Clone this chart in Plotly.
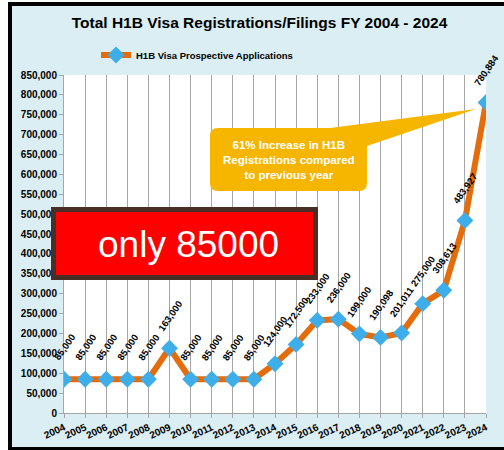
import plotly.graph_objects as go

years = [str(y) for y in range(2004, 2025)]
applications = [85000, 85000, 85000, 85000, 85000, 163000, 85000, 85000, 85000, 85000,
                124000, 172500, 233000, 236000, 199000, 190098, 201011, 275000, 308613,
                483927, 780884]
series_name = "H1B Visa Prospective Applications"
title_text = "Total H1B Visa Registrations/Filings FY 2004 - 2024"
callout_text = "61% Increase in H1B<br>Registrations compared<br>to previous year"
box_text = "only 85000"

W, H = 504, 450
L, R, T, B = 64, 18, 75, 37
PW, PH = W - L - R, H - T - B

def px(x):
    return (x - L) / PW

def py(y):
    return (H - B - y) / PH

ORANGE = "#E46C0A"
BLUE = "#3DAEE9"
BG = "#DAEEF3"
GOLD = "#F6B600"

fig = go.Figure()
fig.add_trace(go.Scatter(
    x=years, y=applications, name=series_name, mode="lines+markers",
    line=dict(color=ORANGE, width=6),
    marker=dict(symbol="diamond", size=13, color=BLUE, line=dict(width=0)),
    showlegend=True,
))

font_fam = "Liberation Sans, Arial, sans-serif"

annotations = []
for i, v in enumerate(applications):
    annotations.append(dict(
        x=i, y=v, xref="x", yref="y", text=f"{v:,}", showarrow=False,
        textangle=-55, xanchor="center", yanchor="middle", yshift=32,
        font=dict(family=font_fam, size=9.5, color="black", weight="bold"),
    ))

annotations.append(dict(
    x=px(288.5), y=py(160), xref="paper", yref="paper", text=callout_text,
    showarrow=False, xanchor="center", yanchor="middle", align="center",
    font=dict(family=font_fam, size=11.5, color="white", weight="bold"),
))
annotations.append(dict(
    x=px(188), y=py(244), xref="paper", yref="paper", text=box_text,
    showarrow=False, xanchor="center", yanchor="middle",
    font=dict(family=font_fam, size=37, color="white"),
))

x0, x1, y0, y1, r = 210, 367, 128, 191, 8
def P(x, y):
    return f"{px(x):.5f},{py(y):.5f}"
path = (
    f"M {P(x0 + r, y0)} L {P(330, y0)} L {P(476, 109)} L {P(x1, 146)} "
    f"L {P(x1, y1 - r)} Q {P(x1, y1)} {P(x1 - r, y1)} "
    f"L {P(x0 + r, y1)} Q {P(x0, y1)} {P(x0, y1 - r)} "
    f"L {P(x0, y0 + r)} Q {P(x0, y0)} {P(x0 + r, y0)} Z"
)

shapes = [
    dict(type="rect", xref="paper", yref="paper", layer="below",
         x0=px(10), x1=px(520), y0=py(4), y1=py(449),
         fillcolor=BG, line=dict(color="black", width=4)),
    dict(type="rect", xref="paper", yref="paper", layer="below",
         x0=0, x1=1, y0=0, y1=1, fillcolor="white", line=dict(width=0)),
    dict(type="path", xref="paper", yref="paper", layer="above", path=path,
         fillcolor=GOLD, line=dict(width=0)),
    dict(type="rect", xref="paper", yref="paper", layer="above",
         x0=px(53.5), x1=px(315.5), y0=py(209.5), y1=py(277.5),
         fillcolor="#FF0000", line=dict(color="#4A2F27", width=5)),
]

fig.update_layout(
    width=W, height=H,
    margin=dict(l=L, r=R, t=T, b=B, pad=0),
    paper_bgcolor="white", plot_bgcolor="rgba(0,0,0,0)",
    title=dict(text=title_text, x=259.5 / W, xref="container", xanchor="center",
               y=1 - 23 / H, yref="container", yanchor="middle",
               font=dict(family=font_fam, size=15.5, color="black", weight="bold")),
    legend=dict(orientation="h", x=px(96), y=py(55), xanchor="left", yanchor="middle",
                bgcolor="rgba(0,0,0,0)",
                font=dict(family=font_fam, size=9.5, color="black", weight="bold"),
                itemwidth=30),
    xaxis=dict(type="category", range=[0, 20], showgrid=True, gridcolor="#A6A6A6", gridwidth=1,
               showline=True, linecolor="#A6A6A6", ticks="outside", ticklen=4, tickcolor="#A6A6A6",
               tickangle=-25, tickfont=dict(family=font_fam, size=10, color="black", weight="bold"),
               zeroline=False, fixedrange=True, automargin=False),
    yaxis=dict(range=[0, 850000], dtick=50000, tickformat=",", showgrid=False,
               showline=True, linecolor="#A6A6A6", ticks="outside", ticklen=4, tickcolor="#A6A6A6",
               tickfont=dict(family=font_fam, size=10, color="black", weight="bold"),
               zeroline=False, fixedrange=True, automargin=False),
    annotations=annotations,
    shapes=shapes,
    showlegend=True,
)

fig.write_html("out.html", config={"displayModeBar": False},
               post_script="document.body.style.margin='0';")
